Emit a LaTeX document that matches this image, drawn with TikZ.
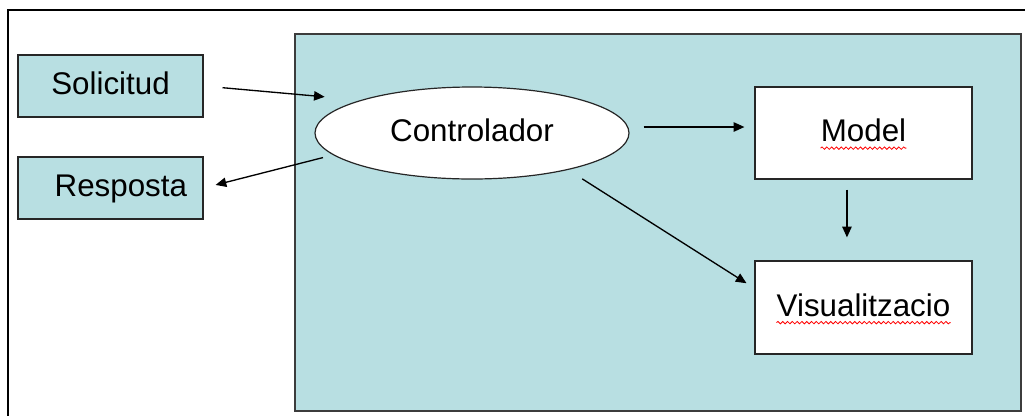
\documentclass[tikz,border=0pt]{standalone}
\usepackage{fontspec}
\setmainfont{Liberation Sans}
\usetikzlibrary{arrows.meta,shapes.geometric,decorations.pathmorphing}
\definecolor{fons}{HTML}{B8DFE2}
\definecolor{vora}{HTML}{3C3C3C}
\begin{document}
\begin{tikzpicture}[x=0.75pt,y=-0.75pt,
  lletra/.style={font=\fontsize{23.5pt}{28pt}\selectfont,text height=17.6pt,text depth=4.7pt},
  caixa/.style={draw=black!85,line width=0.9pt,inner sep=0pt,lletra},
  rotul/.style={inner sep=0pt,lletra},
  fletxa/.style={-{Triangle[length=8pt,width=7pt]},line width=1pt},
  onda/.style={draw=red,line width=0.6pt,decorate,decoration={snake,amplitude=0.9pt,segment length=3.6pt}}]
\useasboundingbox (0,0) rectangle (1025,415);
\clip (0,0) rectangle (1025,415);
\draw[line width=1.5pt] (8,10) rectangle (1040,430);
\draw[fill=fons,draw=vora,line width=1.5pt] (295,34) rectangle (1021,411);
% entrada i sortida
\node[caixa,fill=fons,minimum width=138.75pt,minimum height=46.5pt] (sol) at (110.5,86) {Solicitud};
\node[caixa,fill=fons,minimum width=138.75pt,minimum height=46.5pt,text width=114.75pt,align=right] (resp) at (110.5,188) {Resposta};
% controlador, model i vista
\node[caixa,ellipse,fill=white,minimum width=235.5pt,minimum height=69pt] (ctrl) at (472,133) {Controlador};
\node[caixa,fill=white,minimum width=162.75pt,minimum height=69pt] (mdl) at (863.5,133) {};
\node[caixa,fill=white,minimum width=162.75pt,minimum height=69.75pt] (vis) at (863.5,307.5) {};
\node[rotul] (mdltxt) at (mdl) {Model};
\node[rotul] (vistxt) at (vis) {Visualitzacio};
\draw[onda] (mdltxt.south west) -- (mdltxt.south east);
\draw[onda] (vistxt.south west) -- (vistxt.south east);
% fletxes
\draw[fletxa,shorten <=14.25pt,shorten >=27pt] (sol.east) -- (ctrl.north west);
\draw[fletxa,shorten <=7.8pt,shorten >=9.3pt] (ctrl.189) -- (resp.east);
\draw[fletxa,shorten <=10.5pt,shorten >=7.5pt] ([yshift=4.5pt]ctrl.east) -- ([yshift=4.5pt]mdl.west);
\draw[fletxa,shorten <=7.5pt,shorten >=17.25pt] ([xshift=-12.4pt]mdl.south) -- ([xshift=-12.4pt]vis.north);
\draw[fletxa,shorten <=12.5pt,shorten >=7pt] (ctrl.339) -- (vis.170);
\end{tikzpicture}
\end{document}
